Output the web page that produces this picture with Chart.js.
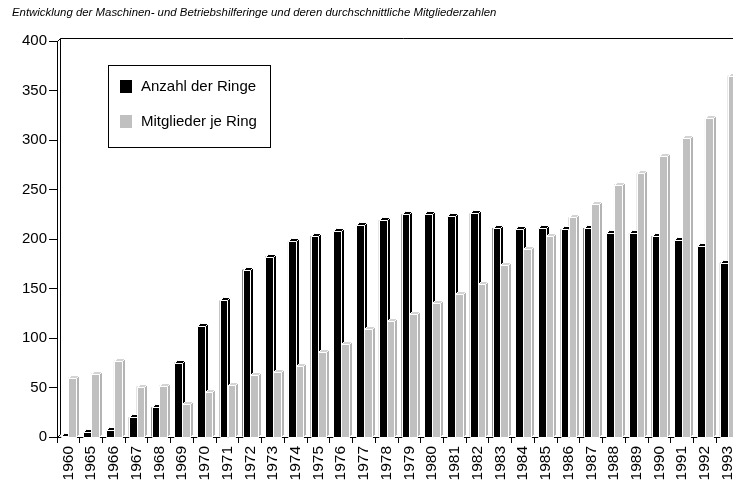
<!DOCTYPE html>
<html>
<head>
    <title>Maschinen- und Betriebshilferinge</title>
    <script src="https://cdn.jsdelivr.net/npm/chart.js@4.4.0/dist/chart.umd.min.js"></script>
    <style>
        html, body { margin: 0; padding: 0; background: #fff; overflow: hidden; }
        #wrap { width: 733px; height: 482px; overflow: hidden; position: relative; }
    </style>
</head>
<body>
<div id="wrap">
    <canvas id="ringChart" width="745" height="482"></canvas>
</div>
<script>
    var titleText = 'Entwicklung der Maschinen- und Betriebshilferinge und deren durchschnittliche Mitgliederzahlen';
    var years = ['1960', '1965', '1966', '1967', '1968', '1969', '1970', '1971', '1972', '1973',
                 '1974', '1975', '1976', '1977', '1978', '1979', '1980', '1981', '1982', '1983',
                 '1984', '1985', '1986', '1987', '1988', '1989', '1990', '1991', '1992', '1993'];
    var anzahlRinge = [1, 5, 7, 20, 30, 75, 112, 138, 169, 182,
                       198, 203, 208, 214, 219, 225, 225, 223, 226, 211,
                       210, 211, 210, 211, 206, 206, 203, 199, 193, 176];
    var mitgliederJeRing = [60, 64, 77, 51, 52, 33, 45, 53, 63, 66,
                            72, 86, 94, 109, 117, 124, 135, 144, 155, 174,
                            190, 203, 222, 235, 255, 267, 284, 302, 322, 365];
    var yTicks = [0, 50, 100, 150, 200, 250, 300, 350, 400];

    var FONT = '"Liberation Sans", Arial, sans-serif';
    var DEPTH = 3;
    // face colours for the fake 3d look: front, top, side
    var faces = [
        { front: '#000000', top: '#000000', side: '#000000' },
        { front: '#c0c0c0', top: '#d4d4d4', side: '#b4b4b4' }
    ];

    function poly(ctx, pts, fill) {
        ctx.beginPath();
        ctx.moveTo(pts[0][0], pts[0][1]);
        for (var k = 1; k < pts.length; k++) ctx.lineTo(pts[k][0], pts[k][1]);
        ctx.closePath();
        ctx.fillStyle = fill;
        ctx.fill();
        ctx.stroke();
    }

    var extras = {
        id: 'extras',
        beforeDatasetsDraw: function(chart) {
            var ctx = chart.ctx, a = chart.chartArea;
            ctx.save();
            ctx.strokeStyle = '#000';
            ctx.lineWidth = 1;
            ctx.beginPath();
            // back wall + top frame
            ctx.moveTo(a.left + 0.5, a.top + 0.5);
            ctx.lineTo(a.left + DEPTH + 0.5, a.top - DEPTH + 0.5);
            ctx.lineTo(a.right + 20, a.top - DEPTH + 0.5);
            ctx.moveTo(a.left + DEPTH + 0.5, a.top - DEPTH + 0.5);
            ctx.lineTo(a.left + DEPTH + 0.5, a.bottom - DEPTH + 0.5);
            ctx.lineTo(a.left + 0.5, a.bottom + 0.5);
            ctx.stroke();
            ctx.restore();
        },
        afterDatasetsDraw: function(chart) {
            var ctx = chart.ctx;
            ctx.save();
            ctx.strokeStyle = '#ffffff';
            ctx.lineWidth = 1;
            var n = chart.data.labels.length;
            for (var i = 0; i < n; i++) {
                for (var d = 0; d < 2; d++) {
                    var el = chart.getDatasetMeta(d).data[i];
                    var p = el.getProps(['x', 'y', 'base', 'width'], true);
                    var l = Math.round(p.x - p.width / 2) + 0.5;
                    var r = Math.round(p.x + p.width / 2) + 0.5;
                    var t = Math.round(p.y) + 0.5;
                    var b = Math.round(p.base) + 0.5;
                    var f = faces[d];
                    if (b - t < 1) {
                        poly(ctx, [[l, b], [l + DEPTH, b - DEPTH], [r + DEPTH, b - DEPTH], [r, b]], f.top);
                        continue;
                    }
                    poly(ctx, [[l, t], [r, t], [r, b], [l, b]], f.front);
                    poly(ctx, [[l, t], [l + DEPTH, t - DEPTH], [r + DEPTH, t - DEPTH], [r, t]], f.top);
                    poly(ctx, [[r, t], [r + DEPTH, t - DEPTH], [r + DEPTH, b - DEPTH], [r, b]], f.side);
                }
            }
            ctx.restore();
        },
        afterDraw: function(chart) {
            var ctx = chart.ctx;
            ctx.save();
            // title
            ctx.fillStyle = '#000';
            ctx.font = 'italic 11.4px ' + FONT;
            ctx.textBaseline = 'middle';
            ctx.textAlign = 'left';
            ctx.fillText(titleText, 12, 13);
            // legend box
            ctx.strokeStyle = '#000';
            ctx.lineWidth = 1;
            ctx.strokeRect(108.5, 65.5, 162, 82);
            ctx.font = '15px ' + FONT;
            var ds = chart.data.datasets;
            for (var j = 0; j < ds.length; j++) {
                var yy = 80 + j * 35;
                ctx.fillStyle = ds[j].backgroundColor;
                ctx.fillRect(120, yy, 12, 13);
                ctx.fillStyle = '#000';
                ctx.fillText(ds[j].label, 141, yy + 7);
            }
            ctx.restore();
        }
    };

    var ctx = document.getElementById('ringChart').getContext('2d');
    var ringChart = new Chart(ctx, {
        type: 'bar',
        data: {
            labels: years,
            datasets: [{
                label: 'Anzahl der Ringe',
                data: anzahlRinge,
                backgroundColor: '#000000',
                borderWidth: 0
            }, {
                label: 'Mitglieder je Ring',
                data: mitgliederJeRing,
                backgroundColor: '#c0c0c0',
                borderWidth: 0
            }]
        },
        options: {
            responsive: false,
            devicePixelRatio: 1,
            animation: false,
            events: [],
            layout: { padding: { top: 41, right: 6, left: 0, bottom: 0 } },
            datasets: {
                bar: { categoryPercentage: 0.68, barPercentage: 1.0 }
            },
            plugins: {
                legend: { display: false },
                title: { display: false },
                tooltip: { enabled: false }
            },
            scales: {
                x: {
                    offset: true,
                    grid: {
                        offset: true,
                        drawOnChartArea: false,
                        color: '#000',
                        tickLength: 6,
                        tickWidth: 1
                    },
                    border: { display: true, color: '#000', width: 1 },
                    ticks: {
                        autoSkip: false,
                        minRotation: 90,
                        maxRotation: 90,
                        padding: 3,
                        color: '#000',
                        font: { family: FONT, size: 15.5 }
                    },
                    afterFit: function(scale) {
                        scale.height = 45;
                        scale.paddingLeft = 0;
                        scale.paddingRight = 0;
                    }
                },
                y: {
                    min: 0,
                    max: 400,
                    afterBuildTicks: function(scale) {
                        scale.ticks = yTicks.map(function(v) { return { value: v }; });
                    },
                    grid: {
                        drawOnChartArea: false,
                        color: '#000',
                        tickLength: 8
                    },
                    border: { display: true, color: '#000', width: 1 },
                    ticks: {
                        padding: 2,
                        color: '#000',
                        font: { family: FONT, size: 15 }
                    },
                    afterFit: function(scale) { scale.width = 57; }
                }
            }
        },
        plugins: [extras]
    });
</script>
</body>
</html>
